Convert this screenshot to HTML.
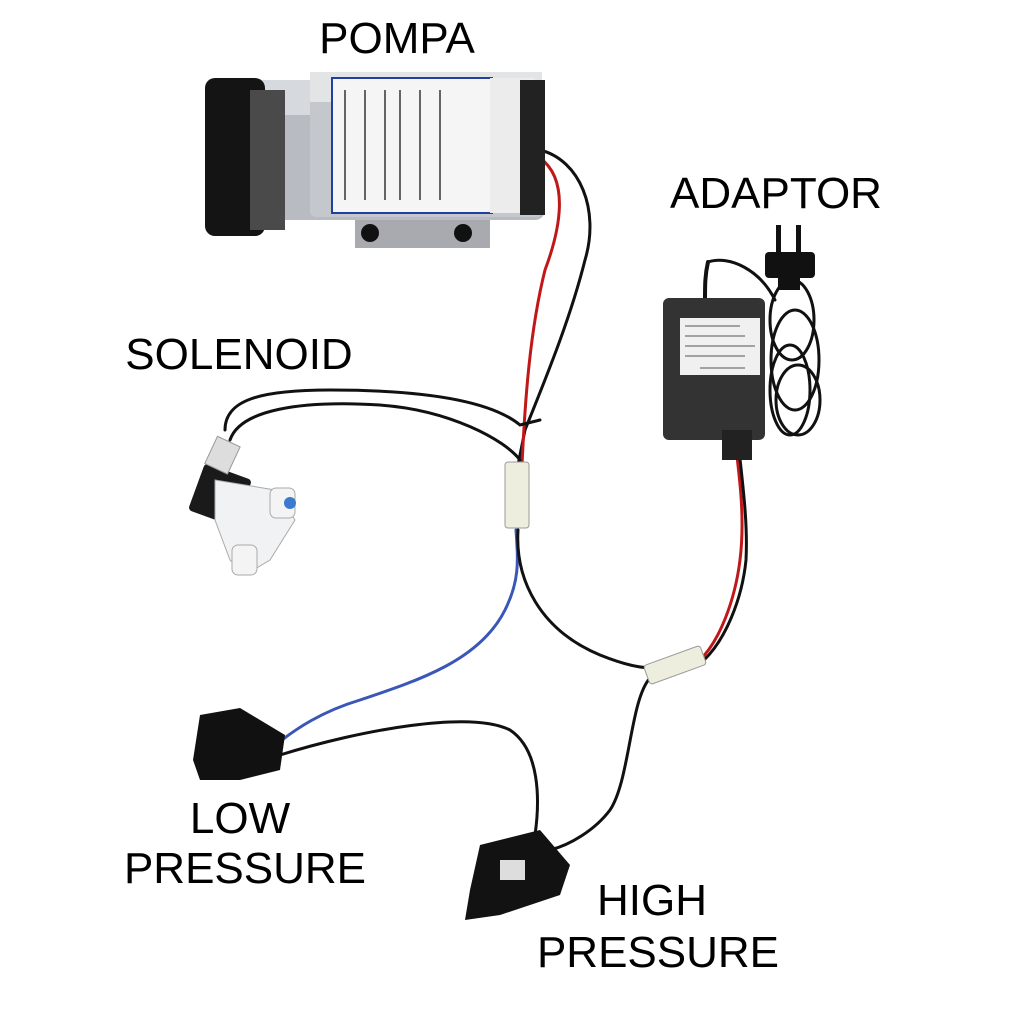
<!DOCTYPE html>
<html><head><meta charset="utf-8"><style>
html,body{margin:0;padding:0;background:#fff}
svg{display:block}
text{font-family:"Liberation Sans",Arial,sans-serif;fill:#000}
</style></head><body>
<svg width="1024" height="1024" viewBox="0 0 1024 1024">
<rect width="1024" height="1024" fill="#fff"/>
<!-- labels -->
<text x="397" y="53" font-size="44" text-anchor="middle">POMPA</text>
<text x="776" y="208" font-size="44" text-anchor="middle">ADAPTOR</text>
<text x="239" y="369" font-size="44" text-anchor="middle">SOLENOID</text>
<text x="240" y="833" font-size="44" text-anchor="middle">LOW</text>
<text x="245" y="883" font-size="44" text-anchor="middle">PRESSURE</text>
<text x="652" y="915" font-size="44" text-anchor="middle">HIGH</text>
<text x="658" y="967" font-size="44" text-anchor="middle">PRESSURE</text>

<!-- wires -->
<g fill="none" stroke-linecap="round">
<path d="M540 150 C580 160 600 210 585 260 C570 320 545 380 525 430 L518 465" stroke="#111" stroke-width="3"/>
<path d="M540 158 C570 180 560 230 545 270 C530 330 525 400 522 465" stroke="#c01818" stroke-width="3"/>
<path d="M225 430 C225 400 260 390 330 390 C420 390 490 400 520 425 L540 420" stroke="#111" stroke-width="3"/>
<path d="M230 440 C240 410 300 400 380 405 C450 410 505 440 520 460" stroke="#111" stroke-width="3"/>
<path d="M516 530 C518 560 520 580 505 610 C480 660 420 680 360 700 C320 712 295 730 282 740" stroke="#3a57b8" stroke-width="3"/>
<path d="M518 530 C515 580 540 630 600 655 C625 665 640 668 655 668" stroke="#111" stroke-width="3"/>
<path d="M700 660 C720 640 735 600 740 560 C745 520 740 480 735 440" stroke="#c01818" stroke-width="3"/>
<path d="M704 660 C725 640 742 600 746 560 C748 520 742 480 738 440" stroke="#111" stroke-width="3"/>
<path d="M650 678 C630 700 630 780 610 810 C595 830 570 845 550 850" stroke="#111" stroke-width="3"/>
<path d="M280 755 C360 730 470 710 510 730 C540 750 540 800 535 835" stroke="#111" stroke-width="3"/>
<path d="M708 262 C705 275 705 285 705 300" stroke="#111" stroke-width="4"/>
<path d="M708 262 C730 255 760 270 775 300" stroke="#111" stroke-width="3"/>
</g>
<!-- coil -->
<g fill="none" stroke="#111" stroke-width="3">
<ellipse cx="792" cy="320" rx="22" ry="40"/>
<ellipse cx="795" cy="360" rx="24" ry="50"/>
<ellipse cx="790" cy="390" rx="20" ry="45"/>
<ellipse cx="798" cy="400" rx="22" ry="35"/>
</g>
<!-- plug -->
<rect x="765" y="252" width="50" height="26" rx="4" fill="#111"/>
<rect x="778" y="270" width="22" height="20" fill="#111"/>
<rect x="776" y="225" width="5" height="28" fill="#111"/>
<rect x="796" y="225" width="5" height="28" fill="#111"/>

<!-- pump -->
<rect x="355" y="200" width="135" height="48" fill="#a9a9b0"/>
<circle cx="370" cy="233" r="9" fill="#111"/><circle cx="463" cy="233" r="9" fill="#111"/>
<rect x="245" y="80" width="300" height="140" rx="10" fill="#b8bcc2"/>
<rect x="245" y="80" width="300" height="35" fill="#d6d9dd"/>
<rect x="310" y="72" width="232" height="145" rx="6" fill="#c4c8cc"/>
<rect x="310" y="72" width="232" height="30" fill="#e2e4e6"/>
<rect x="332" y="78" width="160" height="135" fill="#f5f5f5" stroke="#2040a0" stroke-width="2"/>
<rect x="490" y="78" width="45" height="135" fill="#ececec"/>
<g stroke="#333" stroke-width="1.5">
<line x1="345" y1="90" x2="345" y2="200"/><line x1="365" y1="90" x2="365" y2="200"/>
<line x1="385" y1="90" x2="385" y2="200"/><line x1="400" y1="90" x2="400" y2="200"/>
<line x1="420" y1="90" x2="420" y2="200"/><line x1="440" y1="90" x2="440" y2="200"/>
</g>
<rect x="520" y="80" width="25" height="135" fill="#222"/>
<rect x="205" y="78" width="60" height="158" rx="10" fill="#141414"/>
<rect x="250" y="90" width="35" height="140" fill="#4a4a4a"/>
<!-- adapter -->
<rect x="663" y="298" width="102" height="142" rx="6" fill="#333"/>
<rect x="680" y="318" width="80" height="57" fill="#f0f0f0"/>
<g stroke="#555" stroke-width="1"><line x1="685" y1="326" x2="740" y2="326"/><line x1="685" y1="336" x2="745" y2="336"/><line x1="685" y1="346" x2="755" y2="346"/><line x1="685" y1="356" x2="745" y2="356"/><line x1="700" y1="368" x2="745" y2="368"/></g>
<rect x="722" y="430" width="30" height="30" fill="#222"/>
<!-- connectors -->
<rect x="505" y="462" width="24" height="66" rx="3" fill="#eeeede" stroke="#999"/>
<g transform="rotate(-20 675 665)"><rect x="645" y="655" width="60" height="20" rx="3" fill="#eeeede" stroke="#999"/></g>
<!-- solenoid -->
<rect x="195" y="470" width="50" height="50" rx="4" fill="#1a1a1a" transform="rotate(20 220 495)"/>
<path d="M215 480 L275 490 L295 520 L270 560 L245 575 L230 560 L215 520 Z" fill="#f0f2f4" stroke="#aaa"/>
<rect x="270" y="488" width="25" height="30" rx="6" fill="#f4f4f4" stroke="#aaa"/>
<circle cx="290" cy="503" r="6" fill="#3a7bd0"/>
<rect x="232" y="545" width="25" height="30" rx="6" fill="#f4f4f4" stroke="#aaa"/>
<rect x="210" y="440" width="25" height="30" fill="#ddd" stroke="#999" transform="rotate(25 222 455)"/>
<!-- low pressure -->
<path d="M200 715 L240 708 L285 735 L280 770 L240 780 L200 780 L193 760 Z" fill="#111"/>
<!-- high pressure -->
<path d="M480 845 L540 830 L570 865 L560 895 L500 915 L465 920 L470 890 Z" fill="#121212"/>
<rect x="500" y="860" width="25" height="20" fill="#ddd"/>
</svg>
</body></html>
